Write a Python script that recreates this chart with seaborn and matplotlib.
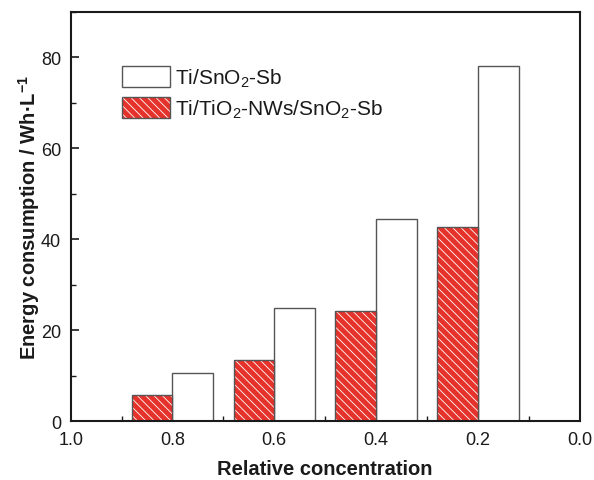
import matplotlib
matplotlib.use("Agg")
import matplotlib.pyplot as plt
import matplotlib.patches as mpatches
from matplotlib.legend_handler import HandlerTuple
from matplotlib.ticker import MultipleLocator, FormatStrFormatter
import numpy as np
import pandas as pd
import seaborn as sns

CONCENTRATIONS = [0.8, 0.6, 0.4, 0.2]
SNO2_SB = [10.7, 24.8, 44.4, 78.0]
TIO2_NWS = [5.8, 13.4, 24.2, 42.7]
SERIES = ["Ti/SnO$_2$-Sb", "Ti/TiO$_2$-NWs/SnO$_2$-Sb"]

RED = "#e5322a"
EDGE = "#555555"
INK = "#1a1a1a"

sns.set_style("ticks")
plt.rcParams["font.family"] = ["Liberation Sans", "DejaVu Sans"]
plt.rcParams["mathtext.fontset"] = "custom"
plt.rcParams["mathtext.rm"] = "Liberation Sans"
plt.rcParams["mathtext.bf"] = "Liberation Sans:bold"
plt.rcParams["hatch.linewidth"] = 0.6
plt.rcParams["text.color"] = INK
plt.rcParams["axes.labelcolor"] = INK
plt.rcParams["xtick.color"] = INK
plt.rcParams["ytick.color"] = INK

df = pd.DataFrame({
    "conc": CONCENTRATIONS * 2,
    "energy": SNO2_SB + TIO2_NWS,
    "anode": [SERIES[0]] * 4 + [SERIES[1]] * 4,
})

fig = plt.figure(figsize=(5.94, 4.81), dpi=100)
ax = fig.add_axes([0.119, 0.122, 0.857, 0.852])

sns.barplot(
    data=df, x="conc", y="energy", hue="anode",
    hue_order=SERIES, palette={SERIES[0]: "white", SERIES[1]: RED},
    native_scale=True, width=0.8, saturation=1,
    edgecolor=EDGE, linewidth=1.0, errorbar=None, legend=False, ax=ax,
)

# red bars: white hatch on red, then an outline drawn on top
for bar in ax.containers[1]:
    bar.set_hatch("\\\\\\\\")
    bar.set_edgecolor("white")
    bar.set_linewidth(0)
    ax.add_patch(mpatches.Rectangle(
        (bar.get_x(), bar.get_y()), bar.get_width(), bar.get_height(),
        fill=False, edgecolor=EDGE, linewidth=1.0, zorder=bar.get_zorder() + 0.1,
    ))

ax.set_xlim(1.0, 0.0)
ax.set_ylim(0, 90)
ax.xaxis.set_major_locator(MultipleLocator(0.2))
ax.xaxis.set_minor_locator(MultipleLocator(0.1))
ax.yaxis.set_major_locator(MultipleLocator(20))
ax.yaxis.set_minor_locator(MultipleLocator(10))
ax.xaxis.set_major_formatter(FormatStrFormatter("%.1f"))
ax.tick_params(which="major", direction="in", length=6, width=1.2,
               labelsize=13, pad=7)
ax.tick_params(which="minor", direction="in", length=3.5, width=1.0)
for s in ax.spines.values():
    s.set_visible(True)
    s.set_linewidth(1.5)
    s.set_color(INK)

ax.set_xlabel("Relative concentration", fontsize=14.5, fontweight="bold", labelpad=8)
ax.set_ylabel(r"Energy consumption / Wh·L$^{\mathbf{-1}}$", fontsize=14.5,
              fontweight="bold", labelpad=-1)

white_h = mpatches.Patch(facecolor="white", edgecolor=EDGE, linewidth=1.0)
red_h = (mpatches.Patch(facecolor=RED, edgecolor="white", linewidth=0, hatch="\\\\\\\\"),
         mpatches.Patch(fill=False, edgecolor=EDGE, linewidth=1.0))
ax.legend([white_h, red_h], SERIES, handler_map={tuple: HandlerTuple(ndivide=1, pad=0)},
          loc="upper left", bbox_to_anchor=(0.1, 0.868), frameon=False, fontsize=15,
          handlelength=2.3, handleheight=1.18, handletextpad=0.25, labelspacing=0.4,
          borderpad=0, borderaxespad=0)

fig.savefig("out.png", dpi=100)
